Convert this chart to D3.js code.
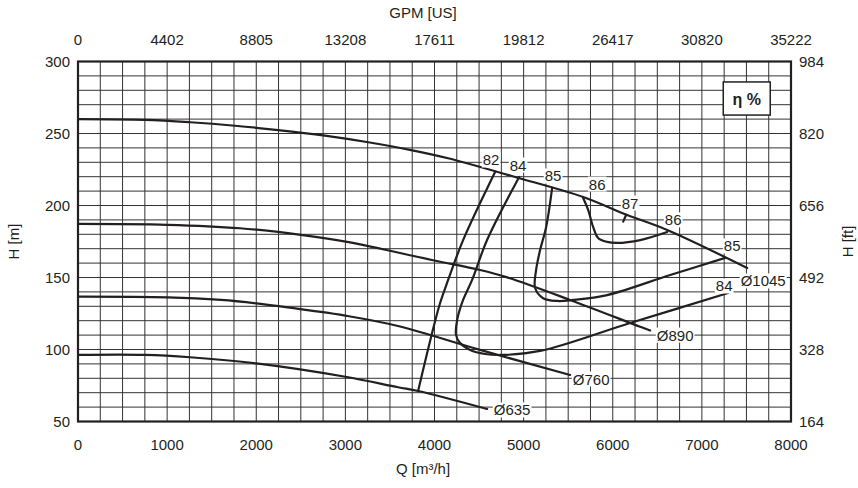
<!DOCTYPE html>
<html>
<head>
<meta charset="utf-8">
<script src="https://cdn.jsdelivr.net/npm/d3@7"></script>
<style>
  html, body { margin: 0; padding: 0; background: #fff; }
  svg { display: block; font-family: "Liberation Sans", Arial, sans-serif; }
</style>
</head>
<body>
<svg id="chart" width="858" height="488"></svg>
<script>
// ---------- data ----------
const qTicks = [0, 1000, 2000, 3000, 4000, 5000, 6000, 7000, 8000];
const gpmLabels = ["0", "4402", "8805", "13208", "17611", "19812", "26417", "30820", "35222"];
const hTicks = [50, 100, 150, 200, 250, 300];
const ftLabels = ["164", "328", "492", "656", "820", "984"];

// head curves [Q m3/h, H m]
const d1045 = [[0,260],[750,259.5],[1260,257.8],[1760,255.4],[2245,252.4],[2770,248.5],[3257,243.9],[3737,238.5],[4153,232.8],[4905,219.8],[5668,205.9],[6162,193.4],[6611,183],[7508,156.6]];
const d890  = [[0,187.2],[1000,186.6],[1818,184.2],[2500,179.6],[3019,174.7],[3984,162],[4512,155.2],[4815,150.1],[5522,134.4],[6307,115.8],[6420,113.2]];
const d760  = [[0,136.7],[1010,136.2],[1605,134.4],[2000,132],[2615,127],[3000,123.5],[3591,116.3],[4512,99.7],[5522,82.3]];
const d635  = [[0,96.2],[750,96.2],[1257,94.6],[2000,90.4],[3000,81.1],[3591,73.8],[3816,71.2],[4590,58.7]];

// efficiency contours
const eff82 = [[4680,223.3],[4321,176.0],[4153,148.3],[4063,132.3],[3973,111.5],[3816,71.2]];
const eff84 = [[4950,219.8],[4590,176],[4422,148.3],[4321,134.4],[4254,120.5],[4242,110],[4287,104.5],[4400,99.7],[4568,96.9],[4736,96.2],[5185,99],[6195,118.4],[7295,139.2]];
const eff85 = [[5320,212.2],[5253,185.1],[5185,169.1],[5140,155.2],[5129,142.7],[5219,135.6],[5376,133.7],[5556,134.4],[5937,137.8],[6644,151.7],[7262,163.6]];
const eff86 = [[5668,205.2],[5724,196.9],[5780,185.1],[5836,177.4],[5937,174.7],[6049,174],[6308,176],[6611,181.6]];
const eff87 = [[6150,193.4],[6117,188.8]];

const labels = [
  {t:"82", q:4635, h:231.6}, {t:"84", q:4938, h:228.1}, {t:"85", q:5331, h:220.5},
  {t:"86", q:5825, h:214.9}, {t:"87", q:6195, h:201.7}, {t:"86", q:6678, h:190},
  {t:"85", q:7340, h:171.9}, {t:"84", q:7250, h:144.1},
  {t:"Ø1045", q:7688, h:147.6}, {t:"Ø890", q:6700, h:110},
  {t:"Ø760", q:5758, h:79.5}, {t:"Ø635", q:4871, h:58}
];

// ---------- drawing ----------
const svg = d3.select("#chart");
const x = d3.scaleLinear().domain([0, 8000]).range([78, 791]);
const y = d3.scaleLinear().domain([50, 300]).range([421.5, 61.5]);
const ink = "#231f20";

const grid = svg.append("g");
grid.selectAll("line.v").data(d3.range(250, 8000, 250)).join("line")
  .attr("x1", d => x(d)).attr("x2", d => x(d)).attr("y1", y(50)).attr("y2", y(300))
  .attr("stroke", "#333").attr("stroke-width", 1);
grid.selectAll("line.h").data(d3.range(60, 300, 10)).join("line")
  .attr("y1", d => y(d)).attr("y2", d => y(d)).attr("x1", x(0)).attr("x2", x(8000))
  .attr("stroke", "#333").attr("stroke-width", 1);

svg.append("rect").attr("x", x(0)).attr("y", y(300))
  .attr("width", x(8000) - x(0)).attr("height", y(50) - y(300))
  .attr("fill", "none").attr("stroke", ink).attr("stroke-width", 2.2);

// tick labels
const fs = 15;
svg.append("g").selectAll("text").data(qTicks).join("text")
  .attr("x", d => x(d)).attr("y", 450).attr("text-anchor", "middle")
  .attr("font-size", fs).attr("fill", ink).text(d => d);
svg.append("g").selectAll("text").data(qTicks).join("text")
  .attr("x", d => x(d)).attr("y", 44.5).attr("text-anchor", "middle")
  .attr("font-size", fs).attr("fill", ink).text((d, i) => gpmLabels[i]);
svg.append("g").selectAll("text").data(hTicks).join("text")
  .attr("x", 70).attr("y", d => y(d) + 5.5).attr("text-anchor", "end")
  .attr("font-size", fs).attr("fill", ink).text(d => d);
svg.append("g").selectAll("text").data(hTicks).join("text")
  .attr("x", 799).attr("y", d => y(d) + 5.5).attr("text-anchor", "start")
  .attr("font-size", fs).attr("fill", ink).text((d, i) => ftLabels[i]);

// axis titles
svg.append("text").attr("x", 423).attr("y", 17.5).attr("text-anchor", "middle")
  .attr("font-size", fs).attr("fill", ink).text("GPM [US]");
svg.append("text").attr("x", 423).attr("y", 474).attr("text-anchor", "middle")
  .attr("font-size", fs).attr("fill", ink).text("Q [m³/h]");
svg.append("text").attr("transform", "translate(19," + ((y(50) + y(300)) / 2) + ") rotate(-90)")
  .attr("text-anchor", "middle").attr("font-size", fs).attr("fill", ink).text("H [m]");
svg.append("text").attr("transform", "translate(853," + ((y(50) + y(300)) / 2) + ") rotate(-90)")
  .attr("text-anchor", "middle").attr("font-size", fs).attr("fill", ink).text("H [ft]");

// curves
const smooth = d3.line().x(d => x(d[0])).y(d => y(d[1])).curve(d3.curveCatmullRom.alpha(0.5));
const curves = svg.append("g").attr("fill", "none").attr("stroke", ink)
  .attr("stroke-width", 2.2).attr("stroke-linecap", "round").attr("stroke-linejoin", "round");
[d1045, d890, d760, d635].forEach(d => curves.append("path").attr("d", smooth(d)));
[eff82, eff84, eff85, eff86, eff87].forEach(d => curves.append("path").attr("d", smooth(d)));

// labels with white background
const lg = svg.append("g");
labels.forEach(l => {
  const t = lg.append("text").attr("x", x(l.q)).attr("y", y(l.h) + 5.5)
    .attr("text-anchor", "middle").attr("font-size", fs).attr("fill", ink).text(l.t);
  const b = t.node().getBBox();
  lg.insert("rect", "text").attr("x", b.x - 1).attr("y", b.y + 1)
    .attr("width", b.width + 2).attr("height", b.height - 2).attr("fill", "#fff");
});

// eta box
const bx = svg.append("g");
bx.append("rect").attr("x", x(7240)).attr("y", y(285.8))
  .attr("width", x(7767) - x(7240)).attr("height", y(262.8) - y(285.8))
  .attr("fill", "#fff").attr("stroke", ink).attr("stroke-width", 1.5);
bx.append("text").attr("x", (x(7240) + x(7767)) / 2).attr("y", (y(285.8) + y(262.8)) / 2 + 6)
  .attr("text-anchor", "middle").attr("font-size", 16).attr("font-weight", "bold")
  .attr("fill", ink).text("η %");
</script>
</body>
</html>
